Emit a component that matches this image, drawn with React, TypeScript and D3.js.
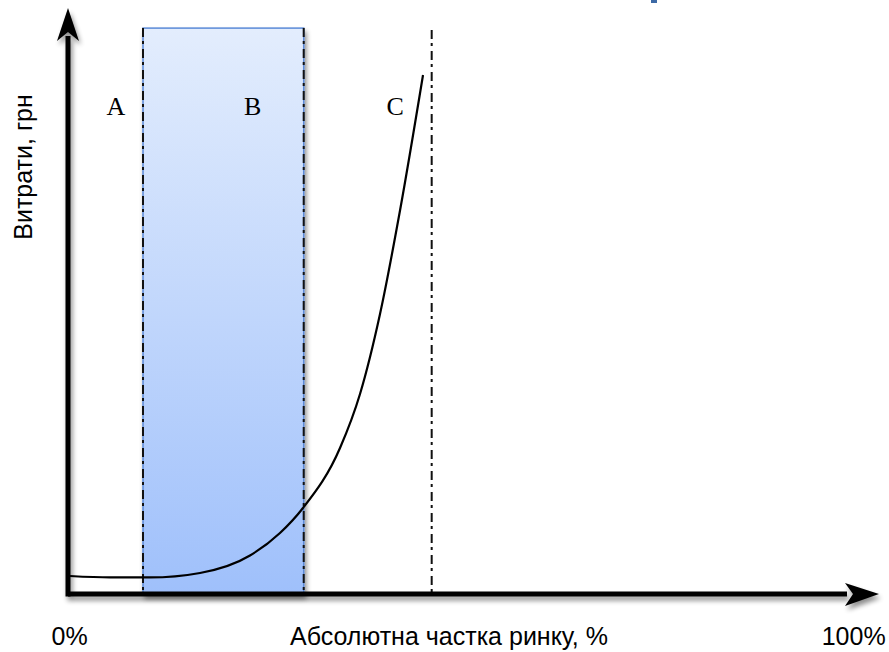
import React from "react";
import * as d3 from "d3";

const W = 889;
const H = 652;

// Curve points (x: market share %, y: cost, arbitrary units 0..100)
const curveX = [0.25, 5.19, 10.12, 16.3, 22.47, 26.17, 29.01, 33.58, 36.05, 38.52, 41.0, 43.83];
const curveY = [3.08, 2.83, 2.83, 3.6, 6.59, 10.45, 14.73, 25.0, 34.25, 47.95, 65.75, 88.87];

// Zone B bounds and limit line
const zoneB = [9.26, 29.1];
const zoneTop = 96.9;
const limitX = 44.9;

const zoneLabels = ["A", "B", "C"];
const zoneLabelX = [5.9, 22.8, 40.4];
const zoneLabelY = 82;

const xTickLabels = ["0%", "100%"];
const xTickPos = [0.2, 97.0];
const xTitle = "Абсолютна частка ринку, %";
const yTitle = "Витрати, грн";

export default function App() {
  const x = d3.scaleLinear().domain([0, 100]).range([68, 878]);
  const y = d3.scaleLinear().domain([0, 100]).range([594, 10]);

  const pts: [number, number][] = curveX.map((v, i) => [x(v), y(curveY[i])]);
  const line = d3.line().curve(d3.curveMonotoneX)(pts) || "";

  const dash = "9,4,3,5";

  return (
    <svg width={W} height={H} style={{ position: "absolute", left: 0, top: 0 }}>
      <defs>
        <linearGradient id="gradB" x1="0" y1="0" x2="0" y2="1">
          <stop offset="0%" stopColor="#e3edfd" />
          <stop offset="100%" stopColor="#9fc0fb" />
        </linearGradient>
        <filter id="shadow" x="-10%" y="-10%" width="130%" height="130%">
          <feGaussianBlur in="SourceAlpha" stdDeviation="2.5" />
          <feOffset dx="2" dy="4" result="off" />
          <feComponentTransfer>
            <feFuncA type="linear" slope="0.45" />
          </feComponentTransfer>
          <feMerge>
            <feMergeNode />
            <feMergeNode in="SourceGraphic" />
          </feMerge>
        </filter>
      </defs>
      <rect x={0} y={0} width={W} height={H} fill="#ffffff" />
      {/* small blue mark at top */}
      <rect x={651} y={0} width={6} height={3} fill="#3d6aa6" />

      {/* Zone B */}
      <g filter="url(#shadow)">
        <rect
          x={x(zoneB[0])}
          y={y(zoneTop)}
          width={x(zoneB[1]) - x(zoneB[0])}
          height={y(0) - y(zoneTop)}
          fill="url(#gradB)"
          stroke="#5b8ad8"
          strokeWidth={1.5}
        />
      </g>
      <line x1={x(zoneB[0])} x2={x(zoneB[0])} y1={y(zoneTop)} y2={y(0)} stroke="#111" strokeWidth={2} strokeDasharray={dash} />
      <line x1={x(zoneB[1])} x2={x(zoneB[1])} y1={y(zoneTop)} y2={y(0)} stroke="#111" strokeWidth={2} strokeDasharray={dash} />
      <line x1={x(limitX)} x2={x(limitX)} y1={y(zoneTop) + 2} y2={y(0)} stroke="#111" strokeWidth={2} strokeDasharray={dash} />

      {/* Curve */}
      <path d={line} fill="none" stroke="#000" strokeWidth={2.2} />

      {/* Zone labels */}
      {zoneLabels.map((t, i) => (
        <text
          key={t}
          x={x(zoneLabelX[i])}
          y={y(zoneLabelY)}
          textAnchor="middle"
          fontFamily="'Liberation Serif', 'DejaVu Serif', serif"
          fontSize={26}
          fill="#000"
        >
          {t}
        </text>
      ))}

      {/* Axes */}
      <g filter="url(#shadow)">
        <line x1={x(0)} x2={847} y1={y(0)} y2={y(0)} stroke="#000" strokeWidth={5} />
        <line x1={x(0)} x2={x(0)} y1={y(0) + 2.5} y2={36} stroke="#000" strokeWidth={5} />
        <path d={`M ${x(0)} 8 L 79 41 L ${x(0)} 32 L 57 41 Z`} fill="#000" />
        <path d={`M 879 ${y(0)} L 845 ${y(0) - 11} L 853 ${y(0)} L 845 ${y(0) + 12} Z`} fill="#000" />
      </g>

      {/* Axis labels */}
      {xTickLabels.map((t, i) => (
        <text
          key={t}
          x={x(xTickPos[i])}
          y={645}
          textAnchor="middle"
          fontFamily="'Liberation Sans', Arial, sans-serif"
          fontSize={25}
          fill="#000"
        >
          {t}
        </text>
      ))}
      <text
        x={449}
        y={645}
        textAnchor="middle"
        fontFamily="'Liberation Sans', Arial, sans-serif"
        fontSize={25}
        fill="#000"
      >
        {xTitle}
      </text>
      <text
        transform={`translate(32, 167) rotate(-90)`}
        textAnchor="middle"
        fontFamily="'Liberation Sans', Arial, sans-serif"
        fontSize={25}
        fill="#000"
      >
        {yTitle}
      </text>
    </svg>
  );
}
